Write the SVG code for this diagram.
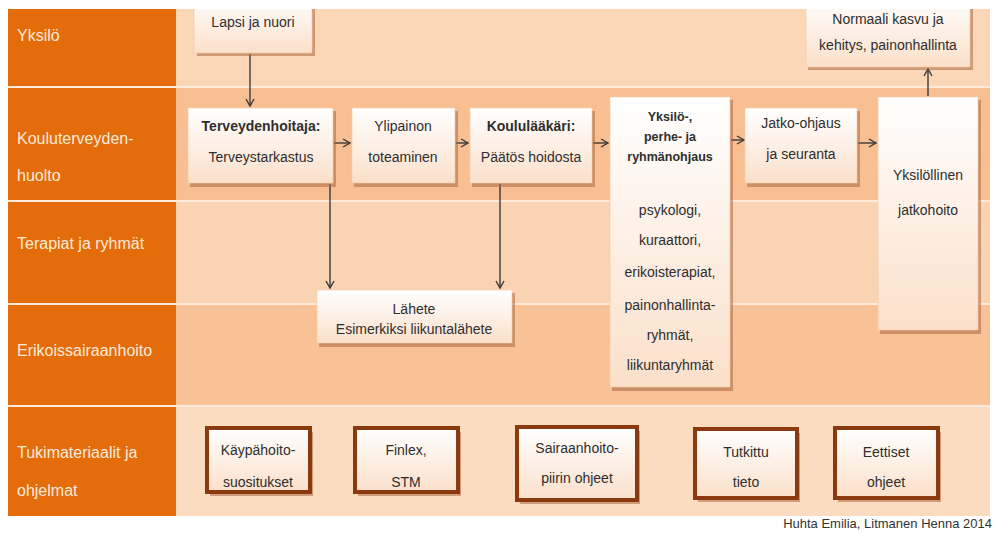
<svg xmlns="http://www.w3.org/2000/svg" width="994" height="534" viewBox="0 0 994 534">
<defs>
<style>
.lbl{font-family:"Liberation Sans",Arial,sans-serif;font-size:16px;fill:#FDEBDC}
.t{font-family:"Liberation Sans",Arial,sans-serif;font-size:14px;fill:#2E2E2E;text-anchor:middle}
.b{font-weight:bold}
.s{font-size:12.5px}
.node{fill:url(#ng);stroke:#F3C9A6;stroke-width:0.6}
.shadow{fill:#A9683F;opacity:0.55}
.tb{fill:url(#ng);stroke:#8A3A0E;stroke-width:4}
.conn{stroke:#3A3A3A;stroke-width:1.4;fill:none;marker-end:url(#ah)}
.sep{stroke:#FCEBDD;stroke-width:2}
</style>
<linearGradient id="ng" x1="0" y1="0" x2="0" y2="1">
<stop offset="0" stop-color="#FFFFFF"/>
<stop offset="1" stop-color="#FBE0CA"/>
</linearGradient>
<marker id="ah" markerWidth="10" markerHeight="10" refX="8" refY="5" orient="auto" markerUnits="userSpaceOnUse">
<path d="M1,1 L8,5 L1,9" fill="none" stroke="#3A3A3A" stroke-width="1.4"/>
</marker>
<clipPath id="clip"><rect x="0" y="9" width="994" height="525"/></clipPath>
</defs>
<rect x="0" y="0" width="994" height="534" fill="#FFFFFF"/>
<g clip-path="url(#clip)">
<g id="lanes">
<rect x="8" y="9" width="168" height="507" fill="#E46C0A"/>
<rect x="176" y="9" width="814" height="78" fill="#FBD6B7"/>
<rect x="176" y="87" width="814" height="114" fill="#F8C092"/>
<rect x="176" y="201" width="814" height="103" fill="#FAD3B2"/>
<rect x="176" y="304" width="814" height="102" fill="#F9C296"/>
<rect x="176" y="406" width="814" height="110" fill="#FCDCC0"/>
<line class="sep" x1="8" y1="87" x2="990" y2="87"/>
<line class="sep" x1="8" y1="201" x2="990" y2="201"/>
<line class="sep" x1="8" y1="304" x2="990" y2="304"/>
<line class="sep" x1="8" y1="406" x2="990" y2="406"/>
<text class="lbl" x="17" y="41">Yksilö</text>
<text class="lbl" x="17" y="144">Kouluterveyden-</text>
<text class="lbl" x="17" y="181">huolto</text>
<text class="lbl" x="17" y="249">Terapiat ja ryhmät</text>
<text class="lbl" x="17" y="356">Erikoissairaanhoito</text>
<text class="lbl" x="17" y="458">Tukimateriaalit ja</text>
<text class="lbl" x="17" y="496">ohjelmat</text>
</g>
<g id="connectors">
<line class="conn" x1="250" y1="54" x2="250" y2="106"/>
<line class="conn" x1="334" y1="143" x2="350" y2="143"/>
<line class="conn" x1="456" y1="143" x2="468" y2="143"/>
<line class="conn" x1="593" y1="143" x2="608" y2="143"/>
<line class="conn" x1="731" y1="140" x2="744" y2="140"/>
<line class="conn" x1="858" y1="143" x2="876" y2="143"/>
<line class="conn" x1="928" y1="96" x2="928" y2="69"/>
<line class="conn" x1="330" y1="184" x2="330" y2="288"/>
<line class="conn" x1="500" y1="184" x2="500" y2="288"/>
</g>
<g id="n-lapsi">
<rect class="shadow" x="197" y="0" width="118" height="56"/>
<rect class="node" x="194" y="-4" width="118" height="57"/>
<text class="t" x="253" y="27">Lapsi ja nuori</text>
</g>
<g id="n-terveydenhoitaja">
<rect class="shadow" x="190" y="111" width="146" height="76"/>
<rect class="node" x="188" y="108" width="145" height="75"/>
<text class="t b" x="261" y="131">Terveydenhoitaja:</text>
<text class="t" x="261" y="162">Terveystarkastus</text>
</g>
<g id="n-ylipainon">
<rect class="shadow" x="354" y="111" width="104" height="76"/>
<rect class="node" x="352" y="108" width="103" height="75"/>
<text class="t" x="403" y="131">Ylipainon</text>
<text class="t" x="403" y="162">toteaminen</text>
</g>
<g id="n-koululaakari">
<rect class="shadow" x="472" y="111" width="123" height="76"/>
<rect class="node" x="470" y="108" width="122" height="75"/>
<text class="t b" x="531" y="131">Koululääkäri:</text>
<text class="t" x="531" y="162">Päätös hoidosta</text>
</g>
<g id="n-yksilo-ohjaus">
<rect class="shadow" x="612" y="100" width="121" height="291"/>
<rect class="node" x="610" y="97" width="120" height="290"/>
<text class="t b s" x="670" y="121">Yksilö-,</text>
<text class="t b s" x="670" y="141">perhe- ja</text>
<text class="t b s" x="670" y="161">ryhmänohjaus</text>
<text class="t" x="670" y="215">psykologi,</text>
<text class="t" x="670" y="245">kuraattori,</text>
<text class="t" x="670" y="277">erikoisterapiat,</text>
<text class="t" x="670" y="310">painonhallinta-</text>
<text class="t" x="670" y="340">ryhmät,</text>
<text class="t" x="670" y="370">liikuntaryhmät</text>
</g>
<g id="n-jatko">
<rect class="shadow" x="747" y="111" width="113" height="76"/>
<rect class="node" x="745" y="108" width="112" height="75"/>
<text class="t" x="801" y="128">Jatko-ohjaus</text>
<text class="t" x="801" y="159">ja seuranta</text>
</g>
<g id="n-yksilollinen">
<rect class="shadow" x="880" y="100" width="101" height="234"/>
<rect class="node" x="878" y="97" width="100" height="233"/>
<text class="t" x="928" y="180">Yksilöllinen</text>
<text class="t" x="928" y="215">jatkohoito</text>
</g>
<g id="n-normaali">
<rect class="shadow" x="808" y="0" width="165" height="70"/>
<rect class="node" x="806" y="-4" width="164" height="71"/>
<text class="t" x="888" y="24">Normaali kasvu ja</text>
<text class="t" x="888" y="50">kehitys, painonhallinta</text>
</g>
<g id="n-lahete">
<rect class="shadow" x="319" y="293" width="196" height="54"/>
<rect class="node" x="317" y="290" width="195" height="53"/>
<text class="t" x="414" y="314">Lähete</text>
<text class="t" x="414" y="334">Esimerkiksi liikuntalähete</text>
</g>
<g id="n-kaypahoito">
<rect class="shadow" x="210" y="432" width="103" height="64"/>
<rect class="tb" x="207" y="428" width="103" height="64"/>
<text class="t" x="258" y="455">Käypähoito-</text>
<text class="t" x="258" y="487">suositukset</text>
</g>
<g id="n-finlex">
<rect class="shadow" x="358" y="432" width="103" height="64"/>
<rect class="tb" x="355" y="428" width="103" height="64"/>
<text class="t" x="406" y="455">Finlex,</text>
<text class="t" x="406" y="487">STM</text>
</g>
<g id="n-sairaanhoito">
<rect class="shadow" x="520" y="431" width="120" height="73"/>
<rect class="tb" x="517" y="427" width="120" height="73"/>
<text class="t" x="577" y="453">Sairaanhoito-</text>
<text class="t" x="577" y="483">piirin ohjeet</text>
</g>
<g id="n-tutkittu">
<rect class="shadow" x="698" y="433" width="102" height="69"/>
<rect class="tb" x="695" y="429" width="102" height="69"/>
<text class="t" x="746" y="457">Tutkittu</text>
<text class="t" x="746" y="487">tieto</text>
</g>
<g id="n-eettiset">
<rect class="shadow" x="838" y="432" width="103" height="70"/>
<rect class="tb" x="835" y="428" width="103" height="70"/>
<text class="t" x="886" y="457">Eettiset</text>
<text class="t" x="886" y="487">ohjeet</text>
</g>
</g>
<text x="992" y="528" text-anchor="end" style="font-family:'Liberation Sans',Arial,sans-serif;font-size:13px;fill:#333">Huhta Emilia, Litmanen Henna 2014</text>
</svg>
